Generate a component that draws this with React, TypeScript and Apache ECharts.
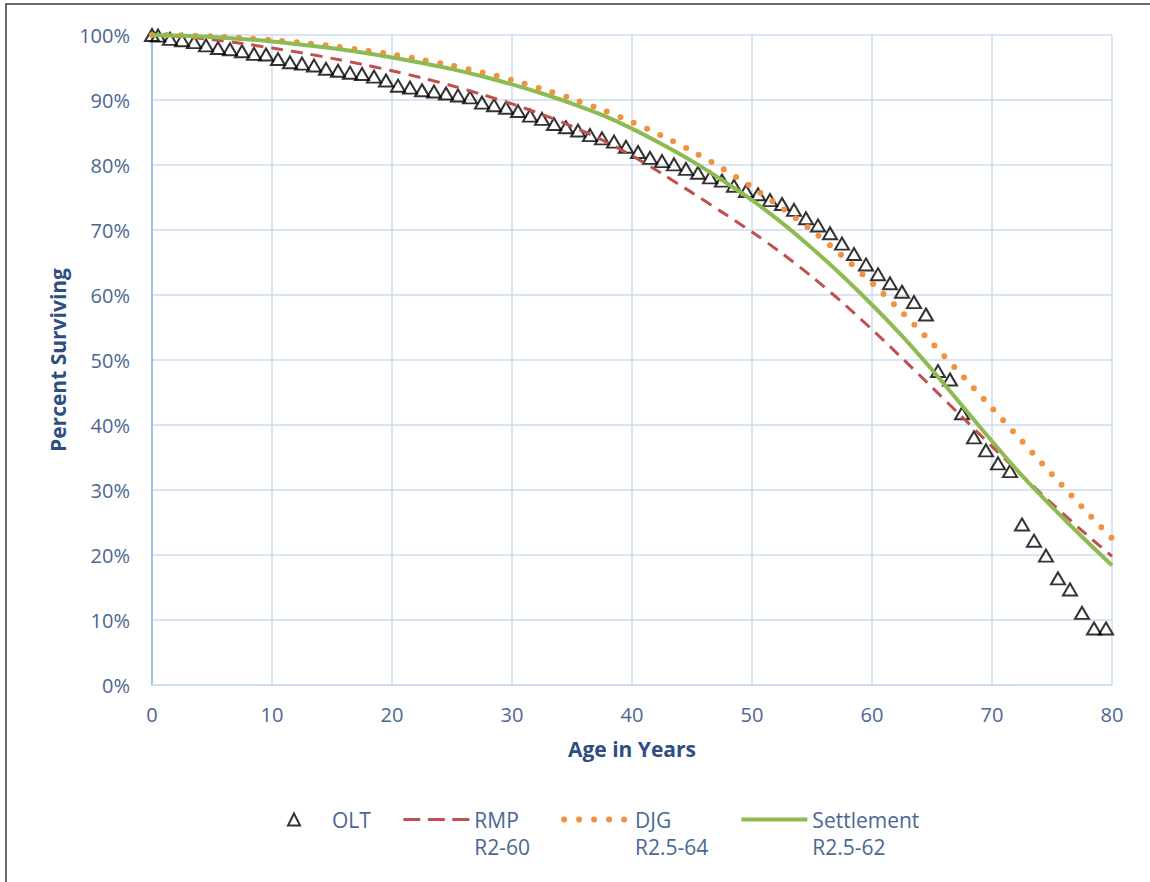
import React, { useEffect, useRef } from "react";
import * as echarts from "echarts";

const oltAges = [
  0, 0.5, 1.5, 2.5, 3.5, 4.5, 5.5, 6.5, 7.5, 8.5, 9.5, 10.5, 11.5, 12.5, 13.5, 14.5, 15.5, 16.5, 17.5, 18.5, 19.5,
  20.5, 21.5, 22.5, 23.5, 24.5, 25.5, 26.5, 27.5, 28.5, 29.5, 30.5, 31.5, 32.5, 33.5, 34.5, 35.5, 36.5, 37.5, 38.5, 39.5,
  40.5, 41.5, 42.5, 43.5, 44.5, 45.5, 46.5, 47.5, 48.5, 49.5, 50.5, 51.5, 52.5, 53.5, 54.5, 55.5, 56.5, 57.5, 58.5, 59.5,
  60.5, 61.5, 62.5, 63.5, 64.5, 65.5, 66.5, 67.5, 68.5, 69.5, 70.5, 71.5, 72.5, 73.5, 74.5, 75.5, 76.5, 77.5, 78.5, 79.5,
];
const oltValues = [
  100, 99.9, 99.4, 99.2, 98.9, 98.4, 98.0, 97.8, 97.5, 97.1, 97.0, 96.3, 95.8, 95.6, 95.3, 94.8, 94.5, 94.2, 94.0, 93.6, 93.0,
  92.2, 91.9, 91.5, 91.3, 91.0, 90.7, 90.4, 89.6, 89.2, 88.8, 88.3, 87.6, 87.1, 86.3, 85.8, 85.3, 84.6, 84.1, 83.6, 82.8,
  82.0, 81.1, 80.6, 80.1, 79.4, 78.8, 78.1, 77.6, 76.8, 76.0, 75.5, 74.6, 74.0, 73.1, 71.8, 70.7, 69.5, 67.9, 66.3, 64.7,
  63.2, 61.8, 60.5, 58.9, 57.0, 48.3, 47.0, 41.8, 38.1, 36.1, 34.1, 32.9, 24.7, 22.2, 19.9, 16.4, 14.7, 11.1, 8.7, 8.7,
];

const curveAges = [
  0, 2.5, 5, 7.5, 10, 12.5, 15, 17.5, 20, 22.5, 25, 27.5, 30, 32.5, 35, 37.5, 40,
  42.5, 45, 47.5, 50, 52.5, 55, 57.5, 60, 62.5, 65, 67.5, 70, 72.5, 75, 77.5, 80,
];
const rmpValues = [
  100, 99.75, 99.3, 98.7, 98.0, 97.25, 96.4, 95.5, 94.5, 93.4, 92.2, 90.85, 89.4, 87.8, 85.95, 83.85, 81.45,
  78.65, 75.75, 72.75, 69.7, 66.4, 62.8, 58.9, 54.7, 50.3, 45.8, 41.25, 36.7, 32.25, 27.9, 23.75, 19.8,
];
const djgValues = [
  100, 99.95, 99.8, 99.55, 99.22, 98.8, 98.3, 97.7, 97.0, 96.2, 95.3, 94.25, 93.05, 91.7, 90.2, 88.5, 86.6,
  84.5, 82.15, 79.5, 76.6, 73.4, 69.9, 66.05, 61.85, 57.35, 52.6, 47.65, 42.6, 37.5, 32.4, 27.4, 22.55,
];
const settlementValues = [
  100, 99.9, 99.7, 99.4, 99.0, 98.5, 97.95, 97.3, 96.55, 95.7, 94.75, 93.65, 92.4, 91.0, 89.45, 87.7, 85.6,
  83.2, 80.6, 77.7, 74.6, 71.1, 67.2, 63.0, 58.5, 53.7, 48.5, 43.0, 37.5, 32.2, 27.4, 22.8, 18.4,
];

const seriesNames = ["OLT", "RMP", "DJG", "Settlement"];
const legendLabels: Record<string, string> = {
  OLT: "OLT",
  RMP: "\nRMP\nR2-60",
  DJG: "\nDJG\nR2.5-64",
  Settlement: "\nSettlement\nR2.5-62",
};

const FONT = "'Open Sans', 'Liberation Sans', sans-serif";
const LABEL_COLOR = "#4A6794";
const TITLE_COLOR = "#2E4E82";
const GRID_COLOR = "#CCDBF0";
const RED = "#C0504D";
const ORANGE = "#F0923F";
const GREEN = "#8DBB52";

const zip = (xs: number[], ys: number[]) => xs.map((x, i) => [x, ys[i]]);

export default function App() {
  const ref = useRef<HTMLDivElement>(null);
  useEffect(() => {
    const chart = echarts.init(ref.current!, null, { renderer: "svg" });
    chart.setOption({
      animation: false,
      backgroundColor: "#ffffff",
      grid: { left: 152, top: 35, width: 960, height: 650, containLabel: false },
      graphic: [
        {
          type: "rect",
          silent: true,
          z: -10,
          shape: { x: 6, y: 4, width: 1170, height: 900 },
          style: { fill: "none", stroke: "#3a3a3a", lineWidth: 1.5 },
        },
      ],
      xAxis: {
        type: "value",
        min: 0,
        max: 80,
        interval: 10,
        name: "Age in Years",
        nameLocation: "middle",
        nameGap: 53,
        nameTextStyle: { fontFamily: FONT, fontSize: 21, fontWeight: "bold", color: TITLE_COLOR },
        axisLine: { show: true, lineStyle: { color: GRID_COLOR, width: 1.5 } },
        axisTick: { show: false },
        axisLabel: { fontFamily: FONT, fontSize: 20, color: LABEL_COLOR, margin: 19 },
        splitLine: { show: true, lineStyle: { color: GRID_COLOR, width: 1.5 } },
      },
      yAxis: {
        type: "value",
        min: 0,
        max: 100,
        interval: 10,
        name: "Percent Surviving",
        nameLocation: "middle",
        nameGap: 83,
        nameRotate: 90,
        nameTextStyle: { fontFamily: FONT, fontSize: 21, fontWeight: "bold", color: TITLE_COLOR },
        axisLine: { show: true, lineStyle: { color: "#8FB1E3", width: 1.5 } },
        axisTick: { show: false },
        axisLabel: { fontFamily: FONT, fontSize: 20, color: LABEL_COLOR, margin: 22, formatter: "{value}%" },
        splitLine: { show: true, lineStyle: { color: GRID_COLOR, width: 1.5 } },
      },
      legend: {
        left: 260,
        top: 779,
        padding: 0,
        itemWidth: 66,
        itemHeight: 12,
        itemGap: 31,
        formatter: (name: string) => legendLabels[name],
        textStyle: { fontFamily: FONT, fontSize: 21, color: LABEL_COLOR, lineHeight: 27 },
        data: [
          {
            name: seriesNames[0],
            icon: "path://M0,6M66,6M27,12L33,0L39,12Z",
            itemStyle: { color: "transparent", borderColor: "#000", borderWidth: 2 },
          },
          {
            name: seriesNames[1],
            itemStyle: { opacity: 0 },
            lineStyle: { color: RED, width: 3, type: [17, 7.5] },
          },
          {
            name: seriesNames[2],
            itemStyle: { opacity: 0 },
            lineStyle: { color: ORANGE, width: 6, type: [0, 15], cap: "round" },
          },
          {
            name: seriesNames[3],
            itemStyle: { opacity: 0 },
            lineStyle: { color: GREEN, width: 4 },
          },
        ],
      },
      series: [
        {
          name: seriesNames[0],
          type: "scatter",
          data: zip(oltAges, oltValues),
          symbol: "triangle",
          symbolSize: [14, 12],
          itemStyle: { color: "transparent", borderColor: "#000000", borderWidth: 2 },
          z: 2,
        },
        {
          name: seriesNames[1],
          type: "line",
          data: zip(curveAges, rmpValues),
          smooth: 0.3,
          symbol: "none",
          color: RED,
          lineStyle: { color: RED, width: 3, type: [12, 8] },
          z: 3,
        },
        {
          name: seriesNames[2],
          type: "line",
          data: zip(curveAges, djgValues),
          smooth: 0.3,
          symbol: "none",
          color: ORANGE,
          lineStyle: { color: ORANGE, width: 6, type: [0, 14.5], cap: "round" },
          z: 4,
        },
        {
          name: seriesNames[3],
          type: "line",
          data: zip(curveAges, settlementValues),
          smooth: 0.3,
          symbol: "none",
          color: GREEN,
          lineStyle: { color: GREEN, width: 4 },
          z: 5,
        },
      ],
    });
    return () => chart.dispose();
  }, []);
  return (
    <div
      ref={ref}
      style={{ position: "fixed", left: 0, top: 0, width: 1150, height: 882, background: "#fff" }}
    />
  );
}
